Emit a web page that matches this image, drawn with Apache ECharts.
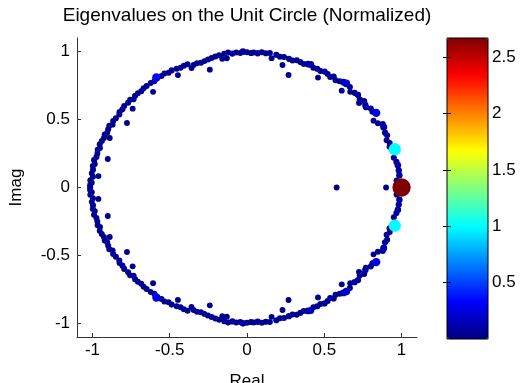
<!DOCTYPE html>
<html><head><meta charset="utf-8">
<script src="https://cdn.jsdelivr.net/npm/echarts@6/dist/echarts.min.js"></script>
<style>html,body{margin:0;padding:0;background:#fff}#c{width:521px;height:383px}</style>
</head><body><div id="c"></div>
<script>
const titleText = 'Eigenvalues on the Unit Circle (Normalized)';
const xName = 'Real';
const yName = 'Imag';
const xTicks = [-1, -0.5, 0, 0.5, 1];
const yTicks = [-1, -0.5, 0, 0.5, 1];
const cbTicks = [0.5, 1, 1.5, 2, 2.5];
const colorMin = 0;
const colorMax = 2.67;

// Upper-half eigenvalues (polar form); each has a complex-conjugate partner below the real axis
const upperAngleDeg = [3.0,5.2,7.3,9.5,11,13,16.4,18,19.5,21,23,24.3,26.7,28,29.2,31,33.3,34.5,36,37.5,38.4,40,41.5,40.6,43.5,45,46.5,48,49.3,50,51.2,52.5,54,55.5,56.5,58,60.4,59.5,61,62.5,64,65.5,66.5,68,69.5,71,72,72.5,74,75.7,76,77.5,79,80.5,81.5,83,84.5,86,87.5,88.5,90,91.5,92.5,94,95.5,97.8,97,98.5,99.6,100.5,102,103.5,105.5,105,106.5,108,109.5,111,112.2,113,114.5,116,117.5,118.4,119.5,121,122.5,124,125.9,127.5,129,130.8,131,132.5,134,135.5,137,138.5,139.5,141,141.9,143,144.5,146,147,148.6,149,150.5,152,153,154.5,156,157.7,157,158.5,160,161.5,163,164,165.5,166.9,167,168.5,170,171,172.5,174,175,175.5,177,178,179];
const upperModulus = [0.97,0.99,0.99,0.99,0.985,0.975,0.997,0.97,0.98,0.968,0.985,0.98,0.99,0.995,0.97,0.955,1.0,0.985,0.99,0.97,0.977,0.99,0.975,0.955,0.99,0.985,0.97,0.995,0.94,1.0,0.995,0.985,0.975,0.99,0.975,0.985,0.93,0.99,0.98,0.985,0.98,0.995,0.99,0.98,0.985,0.99,0.87,0.98,0.985,0.93,0.99,0.985,0.995,0.965,1.0,0.995,1.0,0.99,0.995,0.99,0.995,1.0,0.99,0.995,0.99,0.96,1.0,0.995,0.96,0.99,0.985,0.98,0.90,0.975,0.97,0.965,0.97,0.965,0.95,0.985,0.985,0.98,0.985,0.94,0.99,0.985,0.995,0.99,1.0,0.985,0.99,0.93,0.99,0.99,0.985,0.99,0.99,0.98,0.995,0.99,0.94,0.995,0.99,0.995,0.985,0.91,0.99,0.995,0.985,1.0,0.995,0.99,0.96,1.0,0.995,1.0,1.005,0.995,1.005,1.0,0.925,1.0,1.01,1.0,1.01,1.005,1.01,0.965,1.0,1.015,1.005,1.015];
const upperValue = [0.06,0.08,0.07,0.09,0.06,0.05,1.0,0.05,0.04,0.05,0.05,0.06,0.14,0.05,0.04,0.04,0.3,0.05,0.05,0.06,0.08,0.05,0.06,0.05,0.07,0.06,0.04,0.05,0.04,0.2,0.12,0.05,0.05,0.06,0.05,0.05,0.04,0.06,0.05,0.06,0.05,0.13,0.10,0.05,0.05,0.04,0.04,0.05,0.06,0.04,0.05,0.05,0.06,0.04,0.05,0.06,0.05,0.07,0.05,0.06,0.05,0.09,0.05,0.05,0.06,0.04,0.05,0.05,0.04,0.05,0.05,0.05,0.04,0.05,0.04,0.05,0.05,0.04,0.04,0.05,0.05,0.04,0.05,0.04,0.05,0.05,0.04,0.05,0.3,0.05,0.04,0.04,0.05,0.05,0.05,0.04,0.05,0.05,0.04,0.05,0.04,0.05,0.05,0.04,0.05,0.04,0.05,0.05,0.04,0.05,0.05,0.04,0.04,0.05,0.05,0.05,0.04,0.05,0.05,0.04,0.04,0.05,0.05,0.04,0.05,0.05,0.04,0.04,0.05,0.05,0.04,0.05];

// Real eigenvalues (on the real axis)
const realAxisRe = [1.0, 0.9, 0.58, -1.015];
const realAxisValue = [2.67, 0.04, 0.04, 0.05];

const jet = ['#000080','#0000ff','#0080ff','#00ffff','#80ff80','#ffff00','#ff8000','#ff0000','#800000'];

const pts = [];
for (let i = 0; i < upperAngleDeg.length; i++) {
  const a = upperAngleDeg[i] * Math.PI / 180, r = upperModulus[i], v = upperValue[i];
  const re = r * Math.cos(a), im = r * Math.sin(a);
  pts.push([re, im, v]);
  pts.push([re, -im, v]);
}
for (let i = 0; i < realAxisRe.length; i++) pts.push([realAxisRe[i], 0, realAxisValue[i]]);
pts.sort((p, q) => p[2] - q[2]);

const font = 'Arial, "Liberation Sans", Helvetica, sans-serif';
const axisCol = '#333';
const chart = echarts.init(document.getElementById('c'), null, {renderer: 'canvas'});
chart.setOption({
  animation: false,
  backgroundColor: '#fff',
  title: {
    text: titleText, left: 247, top: 6, textAlign: 'center', padding: 0,
    textStyle: {fontFamily: font, fontSize: 19, fontWeight: 'normal', color: '#000'}
  },
  grid: [
    {left: 77, top: 38, width: 340, height: 299, containLabel: false, outerBoundsMode: 'none'},
    {left: 447, top: 38, width: 41, height: 301, containLabel: false, outerBoundsMode: 'none',
     show: true, borderColor: '#000', borderWidth: 1, backgroundColor: 'transparent', z: 10}
  ],
  xAxis: [
    {type: 'value', gridIndex: 0, min: -1.1, max: 1.1,
     name: xName, nameLocation: 'middle', nameGap: 36,
     nameTextStyle: {fontFamily: font, fontSize: 17, color: '#000'},
     axisLine: {show: true, onZero: false, lineStyle: {color: axisCol}},
     axisTick: {show: true, inside: true, length: 4, customValues: xTicks, lineStyle: {color: axisCol}},
     axisLabel: {customValues: xTicks, margin: 5, fontFamily: font, fontSize: 17, color: '#000'},
     splitLine: {show: false}},
    {type: 'value', gridIndex: 1, min: 0, max: 1, show: false}
  ],
  yAxis: [
    {type: 'value', gridIndex: 0, min: -1.1, max: 1.1,
     name: yName, nameLocation: 'middle', nameGap: 52,
     nameTextStyle: {fontFamily: font, fontSize: 17, color: '#000'},
     axisLine: {show: true, onZero: false, lineStyle: {color: axisCol}},
     axisTick: {show: true, inside: true, length: 4, customValues: yTicks, lineStyle: {color: axisCol}},
     axisLabel: {customValues: yTicks, margin: 7, fontFamily: font, fontSize: 17, color: '#000'},
     splitLine: {show: false}},
    {type: 'value', gridIndex: 1, min: colorMin, max: colorMax, position: 'right',
     axisLine: {show: false},
     axisTick: {show: true, inside: true, length: 4, customValues: cbTicks, lineStyle: {color: '#000'}},
     axisLabel: {customValues: cbTicks, margin: 4, fontFamily: font, fontSize: 17, color: '#000'},
     splitLine: {show: false}, z: 12},
    {type: 'value', gridIndex: 1, min: colorMin, max: colorMax, position: 'left',
     axisLine: {show: false},
     axisTick: {show: true, inside: true, length: 4, customValues: cbTicks, lineStyle: {color: '#000'}},
     axisLabel: {show: false},
     splitLine: {show: false}, z: 12}
  ],
  visualMap: {
    type: 'continuous', min: colorMin, max: colorMax, dimension: 2, seriesIndex: 0,
    inRange: {color: jet}, left: 447, top: 38, itemWidth: 41, itemHeight: 301,
    padding: 0, calculable: false, hoverLink: false, text: null, showLabel: false, z: 2
  },
  series: [{
    type: 'scatter', xAxisIndex: 0, yAxisIndex: 0, data: pts,
    symbolSize: function (d) { return 4.8 + 13.5 * Math.pow(d[2] / colorMax, 0.6); },
    itemStyle: {opacity: 1}, emphasis: {disabled: true}
  }]
});
</script></body></html>
